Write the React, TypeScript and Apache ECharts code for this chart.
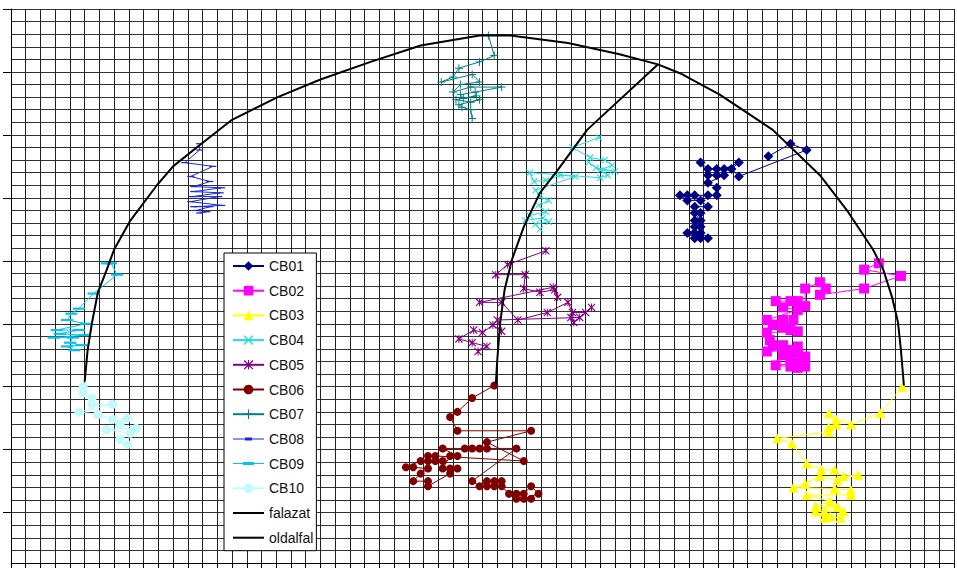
import React, { useEffect, useRef } from "react";
import * as echarts from "echarts";

// Legend / series names
const seriesNames = ["CB01", "CB02", "CB03", "CB04", "CB05", "CB06", "CB07", "CB08", "CB09", "CB10", "falazat", "oldalfal"];

// Displacement traces (grid-cell units: x 0..64, y 0..44)
const cb01: number[][] = [
  [51.4, 32.3], [52.9, 33.3], [54.0, 32.8], [49.4, 30.7], [48.9, 31.3], [49.4, 31.8], [48.4, 31.3], [47.9, 31.3],
  [47.3, 31.3], [46.8, 31.8], [47.3, 30.8], [47.9, 30.8], [48.4, 30.8], [47.3, 30.2], [47.9, 29.8], [47.9, 29.2],
  [47.3, 29.2], [46.4, 29.2], [45.9, 29.2], [45.4, 29.2], [45.9, 28.8], [46.8, 28.8], [47.3, 28.3], [46.4, 28.3],
  [46.4, 27.8], [46.8, 27.8], [46.4, 27.2], [46.8, 27.2], [46.4, 26.7], [46.8, 26.7], [45.9, 26.2], [46.4, 26.2],
  [46.8, 26.2], [46.4, 25.8], [46.8, 25.8], [47.3, 25.8],
];
const cb02: number[][] = [
  [58.9, 23.8], [57.9, 23.3], [60.4, 22.8], [57.9, 21.8], [54.9, 21.3], [55.3, 21.8], [54.9, 22.3], [53.9, 21.8],
  [53.9, 20.4], [53.4, 20.8], [52.9, 20.8], [51.9, 20.8], [52.4, 20.3], [53.4, 20.1], [51.3, 19.3], [52.4, 19.3],
  [53.1, 19.3], [51.7, 18.9], [52.4, 18.7], [52.9, 18.5], [53.4, 18.4], [51.3, 18.3], [51.5, 17.7], [51.7, 17.3],
  [52.4, 17.3], [53.4, 17.2], [51.3, 16.8], [52.9, 16.9], [53.4, 16.7], [52.4, 16.5], [53.9, 16.4], [52.9, 16.1],
  [53.4, 15.9], [51.9, 15.7], [52.9, 15.6], [53.9, 15.6], [53.4, 15.5],
];
const cb03: number[][] = [
  [60.5, 14.0], [59.0, 11.9], [57.0, 11.0], [56.0, 11.4], [55.5, 11.9], [56.0, 11.0], [55.5, 10.8], [55.5, 10.4],
  [52.0, 9.9], [53.0, 9.5], [54.0, 7.9], [55.0, 7.4], [55.9, 7.4], [56.5, 6.9], [57.5, 7.0], [56.1, 6.6],
  [54.9, 6.9], [53.9, 6.3], [53.1, 6.0], [55.9, 5.9], [57.0, 5.8], [57.0, 5.4], [54.0, 5.4], [55.6, 4.9],
  [54.6, 4.5], [56.1, 4.5], [54.6, 4.1], [55.2, 4.1], [56.5, 4.1], [55.6, 3.7], [56.3, 3.6], [55.2, 3.6],
];
const cb04: number[][] = [
  [39.9, 33.8], [38.1, 33.0], [39.3, 32.2], [40.3, 32.0], [40.8, 31.6], [40.0, 31.2], [41.0, 31.1], [39.7, 31.4],
  [39.2, 31.8], [40.5, 30.8], [40.0, 30.6], [35.2, 31.0], [35.5, 30.3], [36.3, 30.4], [37.3, 30.8], [38.3, 30.7],
  [35.6, 29.6], [35.9, 29.1], [36.5, 28.8], [35.8, 28.4], [36.3, 27.9], [35.2, 27.6], [34.9, 27.2], [36.1, 27.4],
  [36.5, 27.1], [35.6, 26.9], [35.9, 26.5],
];
const cb05: number[][] = [
  [36.3, 24.8], [33.7, 23.7], [32.9, 22.9], [34.9, 22.9], [34.8, 21.8], [35.9, 21.5], [36.9, 21.7], [37.1, 21.1],
  [36.8, 21.9], [31.8, 20.7], [33.3, 20.7], [34.4, 19.3], [36.4, 19.9], [37.8, 20.7], [38.1, 19.9], [39.0, 19.9],
  [39.4, 20.3], [38.2, 19.1], [38.0, 19.5], [38.6, 19.5], [33.0, 19.3], [33.3, 18.4], [32.7, 18.9], [32.0, 18.3],
  [31.4, 18.5], [30.4, 17.8], [31.3, 17.5], [32.3, 17.2], [31.7, 16.8],
];
const cb06: number[][] = [
  [32.8, 14.1], [31.3, 13.1], [30.3, 12.0], [29.8, 11.6], [30.3, 10.5], [35.3, 10.5], [32.3, 9.6], [34.8, 8.1],
  [28.8, 8.5], [28.3, 8.5], [28.3, 8.1], [28.8, 8.1], [29.3, 8.1], [27.8, 8.1], [26.8, 7.6], [27.3, 7.6],
  [28.3, 7.5], [27.8, 7.1], [27.3, 6.5], [28.3, 6.5], [28.3, 6.1], [29.8, 7.1], [29.8, 7.5], [30.3, 7.5],
  [29.3, 7.5], [29.8, 8.5], [30.3, 8.5], [29.3, 9.1], [30.8, 9.1], [31.3, 9.1], [31.8, 9.1], [32.3, 9.1],
  [34.3, 9.1], [31.3, 6.5], [31.8, 6.1], [32.3, 6.5], [32.8, 6.5], [33.3, 6.5], [32.3, 6.1], [32.8, 6.1],
  [33.3, 6.1], [33.8, 5.5], [34.3, 5.5], [34.8, 5.5], [35.3, 6.1], [35.8, 5.5], [34.8, 5.1], [34.3, 5.1], [35.3, 5.1],
];
const cb07: number[][] = [
  [32.4, 41.9], [32.8, 40.3], [31.8, 39.8], [30.4, 39.3], [30.0, 38.6], [29.2, 38.2], [31.3, 38.8], [31.8, 38.2],
  [30.5, 38.0], [30.0, 37.4], [31.2, 37.8], [33.3, 37.8], [31.5, 37.4], [30.5, 37.2], [30.7, 36.9], [31.6, 37.1],
  [30.2, 36.8], [31.2, 36.6], [31.8, 36.8], [30.4, 36.4], [30.6, 36.2], [31.2, 36.0], [31.3, 35.3],
];
const cb08: number[][] = [
  [12.8, 33.3], [12.8, 32.8], [11.8, 31.8], [13.7, 31.5], [12.2, 30.7], [13.5, 30.3], [12.4, 29.9], [14.3, 29.8],
  [12.4, 29.5], [14.2, 29.4], [12.3, 29.1], [14.1, 29.1], [12.2, 28.7], [14.3, 28.4], [12.4, 28.3], [13.5, 28.3],
  [12.6, 28.0], [13.3, 27.9], [12.8, 27.8],
];
const cb09: number[][] = [
  [6.5, 23.8], [6.8, 23.8], [7.2, 22.9], [5.6, 21.4], [4.6, 20.2], [4.1, 19.8], [3.8, 19.3], [5.1, 19.0],
  [3.1, 18.5], [4.6, 18.5], [3.3, 18.2], [5.0, 18.1], [2.9, 17.9], [4.2, 17.9], [4.0, 17.5], [4.8, 17.3],
  [3.8, 17.2], [4.3, 16.9],
];
const cb10: number[][] = [
  [4.9, 14.0], [4.9, 13.5], [5.5, 13.1], [5.5, 12.6], [6.9, 12.6], [4.6, 12.0], [5.9, 11.8], [6.9, 11.4],
  [7.9, 11.5], [7.4, 11.0], [8.5, 10.7], [6.5, 10.6], [8.1, 10.3], [7.4, 9.8], [7.9, 9.4],
];
// Outer arch (falazat) and side wall (oldalfal)
const falazat: number[][] = [
  [5.0, 14.4], [5.2, 16.9], [5.5, 19.1], [5.9, 21.5], [6.5, 23.3], [7.0, 24.9], [8.1, 27.2], [9.9, 30.0],
  [11.0, 31.5], [12.6, 33.0], [15.0, 35.2], [18.1, 37.0], [21.0, 38.4], [24.4, 39.8], [27.8, 41.1], [31.8, 41.9],
  [33.9, 41.9], [37.8, 41.3], [41.3, 40.4], [43.9, 39.6], [45.4, 38.9], [48.1, 37.2], [51.7, 34.4], [54.9, 30.8],
  [56.8, 27.9], [58.5, 24.9], [59.2, 23.3], [59.8, 21.1], [60.2, 19.1], [60.4, 16.9], [60.6, 14.1],
];
const oldalfal: number[][] = [
  [32.9, 14.1], [33.0, 16.1], [33.2, 19.1], [33.5, 21.7], [34.0, 24.1], [34.8, 26.7], [35.9, 29.4], [37.1, 31.2],
  [39.1, 34.4], [43.9, 39.6],
];

const xRange = [0, 64];
const yRange = [0, 44];
const yMajorTicks = [4, 9, 14, 19, 24, 29, 34, 39, 44];

const colors = ["#000080", "#FF00FF", "#FFFF00", "#20DDDD", "#800080", "#800000", "#008080", "#1C28D8", "#00C4F4", "#C0FAFA", "#000000", "#000000"];

const SYM_X = "path://M0,1 L1,0 L10,9 L9,10 Z M9,0 L10,1 L1,10 L0,9 Z";
const SYM_STAR = "path://M0,1 L1,0 L10,9 L9,10 Z M9,0 L10,1 L1,10 L0,9 Z M4.4,0 H5.6 V10 H4.4 Z";
const SYM_PLUS = "path://M4.4,0 H5.6 V10 H4.4 Z M0,4.4 H10 V5.6 H0 Z";
const SYM_DASH = "path://M0,0 H10 V1.8 H0 Z";

// legend icons that ECharts cannot derive from the series symbol
const ICON_WALL = "path://M0,0 H31 V2 H0 Z";
const ICON_SHORT_DASH = "path://M0,1 H31 V2 H0 Z M12,0 H19 V3 H12 Z";
const ICON_LONG_DASH = "path://M0,1 H31 V2 H0 Z M10,0 H21 V3 H10 Z";

export default function App() {
  const ref = useRef<HTMLDivElement>(null);
  useEffect(() => {
    if (!ref.current) return;
    const chart = echarts.init(ref.current, null, { renderer: "svg" });
    const datasets = [cb01, cb02, cb03, cb04, cb05, cb06, cb07, cb08, cb09, cb10, falazat, oldalfal];
    const symbols: any[] = ["diamond", "rect", "triangle", SYM_X, SYM_STAR, "circle", SYM_PLUS, SYM_DASH, SYM_DASH, "circle", "none", "none"];
    const sizes = [10, 10, 10, 7, 8, 8, 8, 7, 12, 9, 0, 0];
    const legendIcons: Record<string, string> = {
      CB08: ICON_SHORT_DASH,
      CB09: ICON_LONG_DASH,
      falazat: ICON_WALL,
      oldalfal: ICON_WALL,
    };
    const series = seriesNames.map((name, i) => {
      const isWall = i >= 10;
      return {
        type: "line",
        name,
        data: datasets[i],
        xAxisIndex: 0,
        yAxisIndex: 0,
        symbol: symbols[i],
        symbolSize: sizes[i],
        symbolKeepAspect: symbols[i] === SYM_DASH,
        showSymbol: !isWall,
        color: colors[i],
        itemStyle: { color: colors[i] },
        lineStyle: { color: colors[i], width: isWall ? 2 : 1 },
        emphasis: { disabled: true },
        silent: true,
        z: isWall ? 3 : 2,
      };
    });
    const option: any = {
      animation: false,
      backgroundColor: "#ffffff",
      grid: { left: 11, top: 9, right: 3, bottom: 5, containLabel: false },
      xAxis: {
        type: "value",
        min: xRange[0],
        max: xRange[1],
        interval: 1,
        axisLabel: { show: false },
        axisLine: { show: true, onZero: false, lineStyle: { color: "#000", width: 1 } },
        axisTick: { show: true, length: 5, lineStyle: { color: "#000" } },
        splitLine: { show: true, lineStyle: { color: "#222", width: 1 } },
      },
      yAxis: [
        {
          type: "value",
          position: "left",
          min: yRange[0],
          max: yRange[1],
          interval: 1,
          axisLabel: { show: false },
          axisLine: { show: true, onZero: false, lineStyle: { color: "#000", width: 1 } },
          axisTick: { show: false },
          splitLine: { show: true, lineStyle: { color: "#333", width: 1 } },
        },
        {
          type: "value",
          position: "left",
          min: yRange[0],
          max: yRange[1],
          interval: 1,
          axisLabel: { show: false },
          axisLine: { show: false, onZero: false },
          axisTick: { show: true, length: 8, customValues: yMajorTicks, lineStyle: { color: "#000" } },
          splitLine: { show: false },
        },
      ],
      legend: {
        orient: "vertical",
        left: 224,
        top: 253,
        padding: [5, 3, 5, 8],
        itemWidth: 31,
        itemHeight: 12,
        itemGap: 8.7,
        symbolKeepAspect: true,
        backgroundColor: "#ffffff",
        borderColor: "#000000",
        borderWidth: 1,
        borderRadius: 0,
        selectedMode: false,
        textStyle: { fontFamily: "Liberation Sans, Arial, sans-serif", fontSize: 14, lineHeight: 16, color: "#111" },
        data: seriesNames.map((n) => (legendIcons[n] ? { name: n, icon: legendIcons[n] } : n)),
      },
      series,
    };
    chart.setOption(option);
    return () => chart.dispose();
  }, []);
  return (
    <div
      ref={ref}
      style={{ position: "fixed", left: 0, top: 0, width: 957, height: 568, background: "#fff" }}
    />
  );
}
